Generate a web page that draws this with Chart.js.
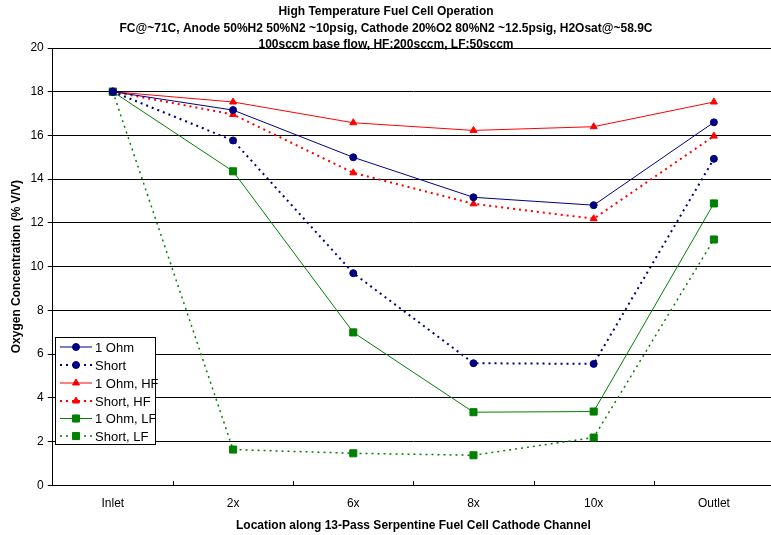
<!DOCTYPE html>
<html>
<head>
<meta charset="utf-8">
<script src="https://cdn.jsdelivr.net/npm/chart.js@4/dist/chart.umd.min.js"></script>
<style>
  html, body { margin: 0; padding: 0; background: #fff; overflow: hidden; }
  #wrap { width: 780px; height: 535px; }
</style>
</head>
<body>
<div id="wrap"><canvas id="o2Chart" width="780" height="535"></canvas></div>
<script>
const locations = ["Inlet", "2x", "6x", "8x", "10x", "Outlet"];

const oneOhm = [18, 17.16, 15.0, 13.17, 12.81, 16.6];
const short = [18, 15.77, 9.7, 5.58, 5.55, 14.93];
const oneOhmHF = [18, 17.53, 16.58, 16.23, 16.4, 17.53];
const shortHF = [18, 16.96, 14.29, 12.87, 12.19, 15.97];
const oneOhmLF = [18, 14.36, 6.99, 3.34, 3.37, 12.89];
const shortLF = [18, 1.63, 1.46, 1.37, 2.18, 11.24];

const titleLines = [
  "High Temperature Fuel Cell Operation",
  "FC@~71C, Anode 50%H2 50%N2 ~10psig, Cathode 20%O2 80%N2 ~12.5psig, H2Osat@~58.9C",
  "100sccm base flow, HF:200sccm, LF:50sccm",
];

const NAVY = "#000080";
const RED = "#ff0000";
const GREEN = "#008000";
const FONT = "'Liberation Sans', Arial, sans-serif";

function series(label, data, color, style, radius, width, dash) {
  return {
    label: label,
    data: data,
    borderColor: color,
    backgroundColor: color,
    borderWidth: width,
    borderDash: dash,
    pointStyle: style,
    pointRadius: radius,
    pointHoverRadius: radius,
    pointBorderWidth: 1,
    tension: 0,
    fill: false,
  };
}

// title text drawn at fixed spots, overlapping the plot top like the original
const titlePlugin = {
  id: "titleLines",
  afterDraw(chart) {
    const c = chart.ctx;
    c.save();
    c.fillStyle = "#000";
    c.font = "bold 12px " + FONT;
    c.textAlign = "center";
    c.textBaseline = "middle";
    const ys = [12, 29, 45];
    titleLines.forEach((t, i) => c.fillText(t, 386, ys[i]));
    c.restore();
  },
};

// small inward tick marks between categories on the x axis
const xTicksPlugin = {
  id: "xTicks",
  afterDatasetsDraw(chart) {
    const x = chart.scales.x;
    const c = chart.ctx;
    const step = (x.right - x.left) / locations.length;
    c.save();
    c.strokeStyle = "#000";
    c.lineWidth = 1;
    for (let i = 1; i < locations.length; i++) {
      const px = Math.round(x.left + i * step) + 0.5;
      c.beginPath();
      c.moveTo(px, x.top - 4);
      c.lineTo(px, x.top);
      c.stroke();
    }
    c.restore();
  },
};

// boxed legend inside the plot, lower left
const legendPlugin = {
  id: "boxLegend",
  afterDraw(chart) {
    const c = chart.ctx;
    const bx = 55.5, by = 337.5, bw = 100, bh = 107;
    c.save();
    c.fillStyle = "#fff";
    c.fillRect(bx, by, bw, bh);
    c.strokeStyle = "#000";
    c.lineWidth = 1;
    c.strokeRect(bx, by, bw, bh);
    const rows = [347, 365, 383, 401, 418.5, 436];
    chart.data.datasets.forEach((ds, i) => {
      const y = rows[i];
      c.save();
      c.strokeStyle = ds.borderColor;
      c.lineWidth = ds.borderWidth;
      c.setLineDash(ds.borderDash || []);
      c.beginPath();
      c.moveTo(60, y);
      c.lineTo(92, y);
      c.stroke();
      c.restore();
      c.save();
      c.fillStyle = ds.backgroundColor;
      c.strokeStyle = ds.borderColor;
      Chart.helpers.drawPoint(c, {
        pointStyle: ds.pointStyle,
        radius: ds.pointRadius,
        rotation: 0,
        borderWidth: 1,
      }, 76, y);
      c.restore();
      c.fillStyle = "#000";
      c.font = "13px " + FONT;
      c.textAlign = "left";
      c.textBaseline = "middle";
      c.fillText(ds.label, 95, y + 1);
    });
    c.restore();
  },
};

const ctx = document.getElementById("o2Chart").getContext("2d");

const chart = new Chart(ctx, {
  type: "line",
  data: {
    labels: locations,
    datasets: [
      series("1 Ohm", oneOhm, NAVY, "circle", 3.5, 1, []),
      series("Short", short, NAVY, "circle", 3.5, 2, [2, 4]),
      series("1 Ohm, HF", oneOhmHF, RED, "triangle", 4, 1, []),
      series("Short, HF", shortHF, RED, "triangle", 4, 2, [2, 4]),
      series("1 Ohm, LF", oneOhmLF, GREEN, "rect", 5, 1, []),
      series("Short, LF", shortLF, GREEN, "rect", 5, 1.5, [2, 4]),
    ],
  },
  options: {
    responsive: false,
    animation: false,
    devicePixelRatio: 1,
    layout: {
      padding: { top: 48, left: 9, right: 0, bottom: 2 },
    },
    plugins: {
      legend: { display: false },
      title: { display: false },
      tooltip: { enabled: false },
    },
    scales: {
      x: {
        offset: true,
        grid: { display: false, offset: true },
        border: { display: true, color: "#000", width: 1 },
        ticks: {
          color: "#000",
          font: { family: FONT, size: 12 },
          padding: 3,
          maxRotation: 0,
        },
        title: {
          display: true,
          text: "Location along 13-Pass Serpentine Fuel Cell Cathode Channel",
          color: "#000",
          font: { family: FONT, size: 12, weight: "bold" },
          padding: { top: 5, bottom: 0 },
        },
      },
      y: {
        min: 0,
        max: 20,
        grid: {
          color: "#000",
          lineWidth: 1,
          tickLength: 5,
          drawTicks: true,
        },
        border: { display: true, color: "#000", width: 1 },
        ticks: {
          stepSize: 2,
          color: "#000",
          font: { family: FONT, size: 12 },
          padding: 4,
        },
        title: {
          display: true,
          text: "Oxygen Concentration (% V/V)",
          color: "#000",
          font: { family: FONT, size: 12, weight: "bold" },
          padding: { top: 0, bottom: 3 },
        },
      },
    },
  },
  plugins: [xTicksPlugin, legendPlugin, titlePlugin],
});
</script>
</body>
</html>
